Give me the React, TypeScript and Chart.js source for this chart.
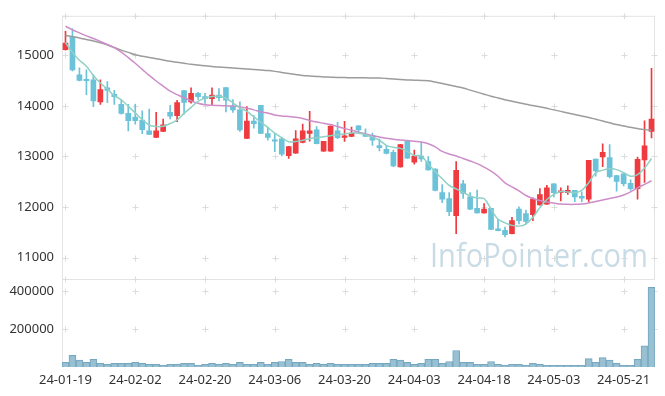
import React, { useEffect, useRef } from 'react';
import { Chart, registerables } from 'chart.js';
Chart.register(...registerables);

const dates = [
  '24-01-19','24-01-22','24-01-23','24-01-24','24-01-25','24-01-26','24-01-29','24-01-30','24-01-31','24-02-01',
  '24-02-02','24-02-05','24-02-06','24-02-07','24-02-08','24-02-13','24-02-14','24-02-15','24-02-16','24-02-19',
  '24-02-20','24-02-21','24-02-22','24-02-23','24-02-26','24-02-27','24-02-28','24-02-29','24-03-04','24-03-05',
  '24-03-06','24-03-07','24-03-08','24-03-11','24-03-12','24-03-13','24-03-14','24-03-15','24-03-18','24-03-19',
  '24-03-20','24-03-21','24-03-22','24-03-25','24-03-26','24-03-27','24-03-28','24-03-29','24-04-01','24-04-02',
  '24-04-03','24-04-04','24-04-05','24-04-08','24-04-09','24-04-11','24-04-12','24-04-15','24-04-16','24-04-17',
  '24-04-18','24-04-19','24-04-22','24-04-23','24-04-24','24-04-25','24-04-26','24-04-29','24-04-30','24-05-02',
  '24-05-03','24-05-07','24-05-08','24-05-09','24-05-10','24-05-13','24-05-14','24-05-16','24-05-17','24-05-20',
  '24-05-21','24-05-22','24-05-23','24-05-24','24-05-27'
];

const opens = [
  15110,15360,14610,14510,14515,14075,14355,14225,14030,13850,
  13780,13720,13505,13375,13495,13870,13805,14300,14075,14245,
  14180,14140,14210,14360,13995,13920,13355,13700,14010,13450,
  13330,13350,13015,13065,13275,13455,13525,13105,13105,13505,
  13375,13395,13605,13415,13415,13215,13140,13080,12795,13310,
  12890,13010,12900,12750,12285,12170,11830,12460,12205,11975,
  11885,11975,11570,11540,11475,11960,11875,11850,12045,12060,
  12460,12290,12285,12330,12215,12155,12950,12990,12980,12625,
  12655,12470,12365,12930,13495
];
const highs = [
  15470,15520,14750,14710,14610,14515,14480,14305,14115,14030,
  14030,13900,13935,13870,13740,14010,14110,14305,14355,14265,
  14245,14355,14340,14360,14125,14080,13985,13805,14010,13580,
  13450,13360,13200,13510,13640,13890,13590,13300,13605,13675,
  13695,13580,13610,13545,13460,13350,13220,13125,13240,13310,
  13125,13280,13000,12760,12445,12285,12900,12530,12285,12335,
  12070,11980,11765,11605,11800,12005,11940,12185,12365,12430,
  12465,12380,12420,12330,12300,12925,12950,13250,13235,12630,
  12660,12540,12990,13705,14740
];
const lows = [
  15100,14690,14490,14220,13985,14030,14060,14030,13835,13505,
  13640,13450,13430,13370,13490,13740,13685,13835,14050,14125,
  14045,14010,14095,13880,13870,13495,13350,13560,13450,13320,
  13095,13010,12960,13060,13270,13300,13250,13100,13100,13350,
  13295,13390,13480,13395,13220,13110,13050,12800,12790,12960,
  12850,12900,12730,12320,12090,11830,11475,12170,11950,11880,
  11880,11555,11530,11410,11470,11670,11670,11735,12040,12055,
  12200,12125,12250,12110,12110,12110,12610,12800,12575,12315,
  12420,12335,12155,12490,13365
];
const closes = [
  15240,14710,14500,14495,14095,14320,14305,14180,13850,13705,
  13705,13530,13435,13505,13625,13795,14065,14065,14245,14180,
  14140,14210,14160,14110,13920,13525,13700,13650,13455,13375,
  13300,13045,13195,13350,13505,13505,13255,13300,13600,13370,
  13410,13460,13525,13395,13320,13175,13060,12815,13235,12965,
  13010,12950,12735,12330,12155,11910,12725,12270,11960,11885,
  11960,11560,11535,11455,11735,11735,11720,12160,12250,12380,
  12285,12315,12330,12200,12175,12925,12715,13080,12600,12510,
  12465,12365,12945,13210,13740
];
const volumes = [
  24000,61500,36000,24000,41000,19000,14000,19000,19000,19000,
  24000,19000,14000,14000,9000,14000,14000,19000,19000,9000,
  14000,19000,14000,19000,14000,24000,14000,14000,24000,14000,
  24000,29000,41000,24000,24000,14000,19000,14000,19000,14000,
  14000,14000,14000,14000,19000,19000,19000,41000,36000,24000,
  14000,19000,41000,41000,19000,29000,87000,24000,24000,14000,
  14000,29000,14000,9000,14000,14000,9000,19000,14000,9000,
  9000,9000,9000,9000,9000,44000,24000,49000,36000,19000,
  9000,9000,41000,111000,420000
];
const ma5 = [
  15250,15050,14900,14780,14600,14450,14330,14200,14120,13990,
  13860,13730,13620,13590,13595,13650,13720,13850,13970,14090,
  14150,14185,14190,14150,14060,13960,13890,13780,13680,13570,
  13460,13370,13290,13295,13320,13350,13370,13390,13410,13430,
  13445,13465,13460,13430,13380,13320,13220,13180,13160,13100,
  13020,13010,12850,12700,12560,12430,12360,12290,12220,12180,
  12170,11960,11760,11690,11640,11625,11665,11800,11990,12150,
  12250,12310,12300,12285,12330,12480,12680,12730,12760,12740,
  12680,12610,12640,12770,12960
];
const ma20 = [
  15570,15500,15440,15380,15330,15270,15210,15150,15060,14950,
  14840,14720,14600,14490,14390,14290,14220,14160,14100,14050,
  14020,14010,14005,14000,13995,13980,13950,13920,13880,13860,
  13820,13800,13790,13775,13750,13710,13680,13655,13630,13590,
  13550,13520,13480,13445,13410,13385,13360,13340,13325,13315,
  13300,13285,13250,13190,13100,13050,13010,12960,12910,12860,
  12790,12710,12610,12480,12400,12320,12230,12170,12130,12100,
  12080,12060,12055,12055,12060,12080,12110,12140,12170,12200,
  12240,12300,12380,12450,12520
];
const ma60 = [
  15390,15365,15340,15310,15280,15245,15200,15150,15100,15055,
  15010,14980,14955,14930,14905,14880,14860,14840,14820,14805,
  14790,14775,14765,14755,14745,14735,14725,14715,14705,14695,
  14680,14660,14640,14620,14600,14590,14580,14570,14565,14560,
  14558,14555,14553,14552,14550,14548,14540,14530,14520,14512,
  14505,14500,14495,14470,14440,14410,14380,14350,14310,14270,
  14230,14190,14155,14120,14090,14060,14030,14005,13980,13950,
  13920,13890,13860,13830,13800,13770,13735,13700,13665,13630,
  13600,13575,13550,13530,13520
];

const priceTicks = [11000, 12000, 13000, 14000, 15000];
const volumeTicks = [200000, 400000];
const xLabelEvery = 10;
const watermark = 'InfoPointer.com';

const UP = '#ef3a3f';
const DOWN = '#6cc2d9';

export default function App() {
  const ref = useRef<HTMLCanvasElement>(null);
  useEffect(() => {
    const canvas = ref.current;
    if (!canvas) return;
    const colors = opens.map((o, i) => (closes[i] >= o ? UP : DOWN));
    const deco = {
      id: 'deco',
      beforeDatasetsDraw(chart: any) {
        const { ctx, chartArea: ca, scales } = chart;
        const x = scales.x, y = scales.y, yv = scales.yv;
        ctx.save();
        ctx.strokeStyle = '#e4e4e4';
        ctx.lineWidth = 1;
        ctx.beginPath();
        ctx.moveTo(ca.left + 0.5, ca.top); ctx.lineTo(ca.left + 0.5, ca.bottom);
        ctx.moveTo(ca.left, ca.top + 0.5); ctx.lineTo(ca.right, ca.top + 0.5);
        ctx.moveTo(ca.right - 0.5, ca.top); ctx.lineTo(ca.right - 0.5, y.bottom);
        ctx.moveTo(ca.left, Math.round(y.bottom) + 0.5); ctx.lineTo(ca.right, Math.round(y.bottom) + 0.5);
        ctx.stroke();
        const xs = x.ticks.map((t: any) => Math.round(x.getPixelForValue(t.value)) + 0.5);
        const ys = [
          ...y.ticks.map((t: any) => Math.round(y.getPixelForValue(t.value)) + 0.5),
          ...yv.ticks.map((t: any) => Math.round(yv.getPixelForValue(t.value)) + 0.5),
        ];
        ctx.strokeStyle = '#dcdcdc';
        ctx.beginPath();
        const cross = (px: number, py: number) => {
          ctx.moveTo(px - 3, py); ctx.lineTo(px + 3, py);
          ctx.moveTo(px, py - 3); ctx.lineTo(px, py + 3);
        };
        xs.forEach((px: number) => ys.forEach((py: number) => cross(px, py)));
        xs.forEach((px: number) => { cross(px, ca.top + 0.5); cross(px, Math.round(y.bottom) + 0.5); });
        ys.forEach((py: number) => cross(ca.right - 0.5, py));
        ctx.stroke();
        // watermark
        ctx.font = '33px "Open Sans", sans-serif';
        const w = ctx.measureText(watermark).width;
        ctx.fillStyle = '#c9dbe5';
        ctx.textBaseline = 'alphabetic';
        ctx.translate(430, 267);
        ctx.scale(218 / w, 1);
        ctx.fillText(watermark, 0, 0);
        ctx.restore();
      },
    };
    const tickFont = { family: "'Noto Sans', sans-serif", size: 13 };
    const plain = (v: any) => String(v);
    const chart = new Chart(canvas, {
      type: 'bar',
      data: {
        labels: dates,
        datasets: [
          { type: 'line', data: ma5, yAxisID: 'y', borderColor: '#8fd1c5', borderWidth: 1.5, pointRadius: 0, tension: 0.35, fill: false } as any,
          { type: 'line', data: ma20, yAxisID: 'y', borderColor: '#cd8dc9', borderWidth: 1.5, pointRadius: 0, tension: 0.35, fill: false } as any,
          { type: 'line', data: ma60, yAxisID: 'y', borderColor: '#9c9c9c', borderWidth: 1.5, pointRadius: 0, tension: 0.35, fill: false } as any,
          { type: 'bar', data: opens.map((o, i) => [o, closes[i]]), yAxisID: 'y', backgroundColor: colors, barThickness: 5, minBarLength: 1.5, grouped: false } as any,
          { type: 'bar', data: lows.map((l, i) => [l, highs[i]]), yAxisID: 'y', backgroundColor: colors, barThickness: 1, grouped: false } as any,
          { type: 'bar', data: volumes, yAxisID: 'yv', backgroundColor: 'rgba(148,190,209,0.95)', borderColor: '#76a7bf', borderWidth: 1, barPercentage: 1, categoryPercentage: 1, grouped: false } as any,
        ],
      },
      options: {
        animation: false,
        responsive: false,
        devicePixelRatio: 1,
        layout: { padding: { top: 10, right: 10, left: 0, bottom: 0 } },
        plugins: { legend: { display: false }, tooltip: { enabled: false } },
        scales: {
          x: {
            type: 'category',
            offset: true,
            grid: { display: false, drawTicks: false },
            border: { display: false },
            ticks: { autoSkip: false, maxRotation: 0, minRotation: 0, color: '#333', font: tickFont, padding: 5 },
            afterBuildTicks: (s: any) => { s.ticks = s.ticks.filter((t: any) => t.value % xLabelEvery === 0); },
            afterFit: (s: any) => { s.height = 29; },
          },
          yv: {
            type: 'linear',
            position: 'left',
            stack: 'panes',
            stackWeight: 1,
            min: 0,
            max: 461000,
            grid: { display: false, drawTicks: false },
            border: { display: false },
            ticks: { color: '#333', font: tickFont, padding: 8, callback: plain },
            afterBuildTicks: (s: any) => { s.ticks = volumeTicks.map((v) => ({ value: v })); },
            afterFit: (s: any) => { s.width = 62; },
          },
          y: {
            type: 'linear',
            position: 'left',
            stack: 'panes',
            stackWeight: 3.01,
            min: 10573,
            max: 15777,
            grid: { display: false, drawTicks: false },
            border: { display: false },
            ticks: { color: '#333', font: tickFont, padding: 8, callback: plain },
            afterBuildTicks: (s: any) => { s.ticks = priceTicks.map((v) => ({ value: v })); },
            afterFit: (s: any) => { s.width = 62; },
          },
        },
      } as any,
      plugins: [deco],
    });
    return () => chart.destroy();
  }, []);
  return (
    <div style={{ position: 'fixed', left: 0, top: 0, width: 665, height: 396, background: '#fff' }}>
      <canvas ref={ref} width={665} height={396} />
    </div>
  );
}
